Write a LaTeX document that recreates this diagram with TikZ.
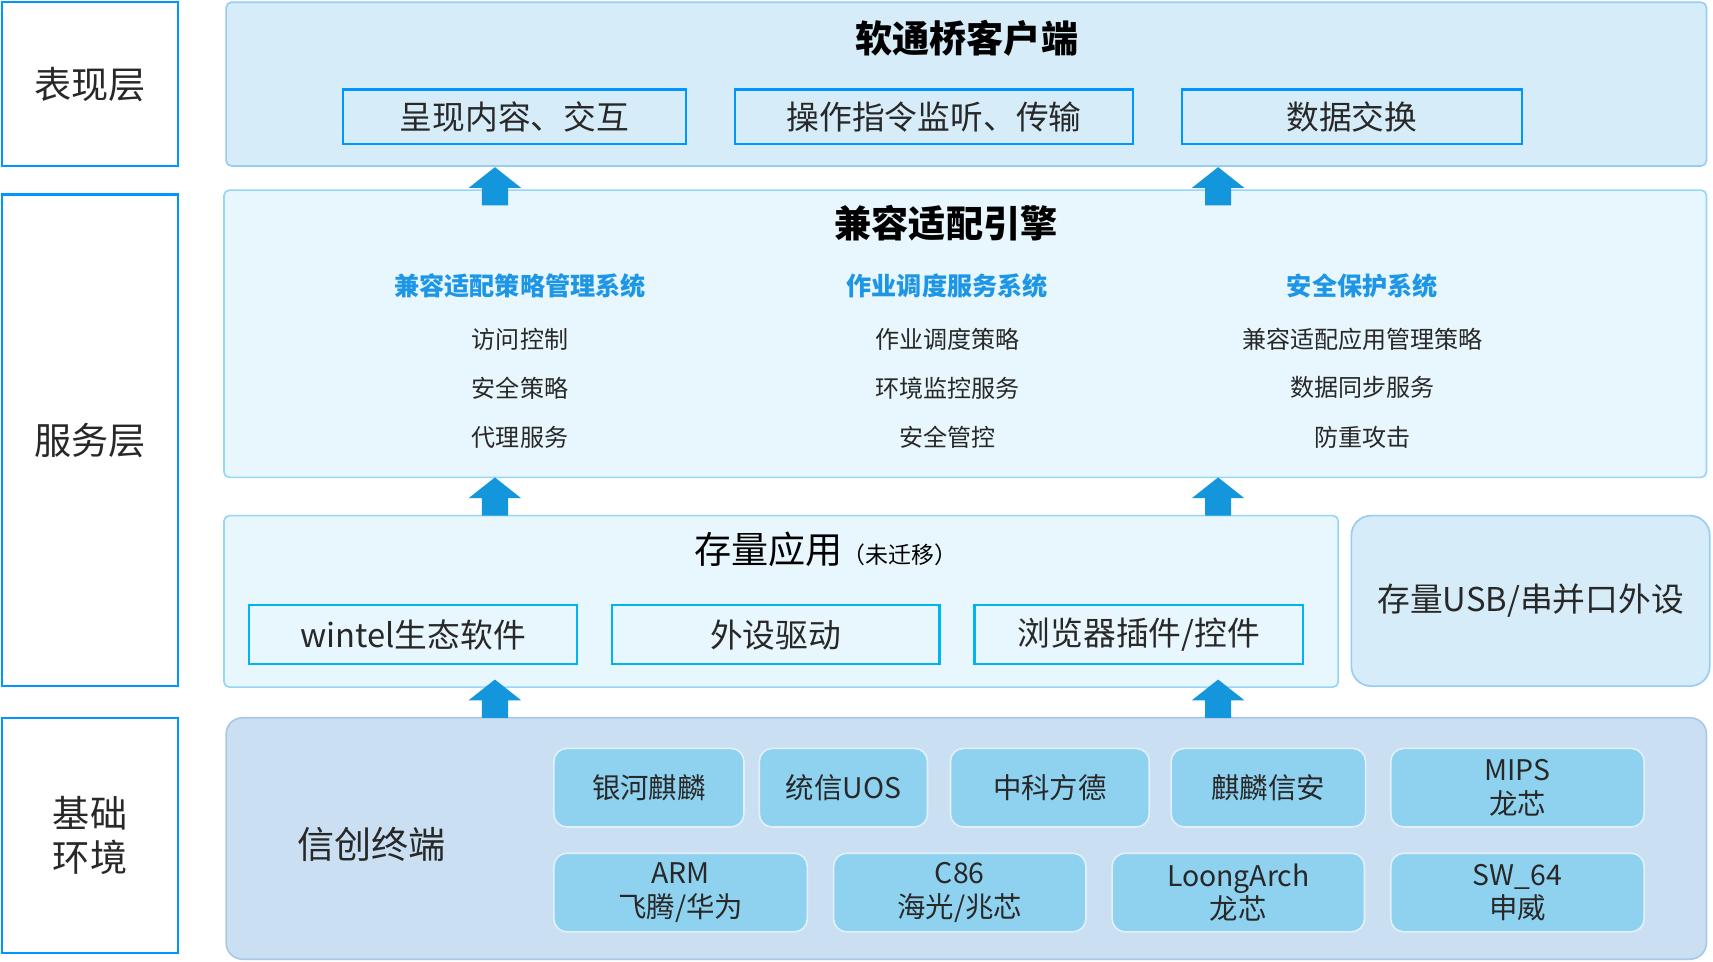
\documentclass[tikz,border=0pt]{standalone}
\usepackage{fontspec}
\setmainfont{Noto Sans CJK SC}
\definecolor{lblue}{RGB}{0,150,255}
\definecolor{txt}{RGB}{40,40,40}
\definecolor{presfill}{RGB}{214,236,248}
\definecolor{presdraw}{RGB}{150,205,240}
\definecolor{engfill}{RGB}{232,246,253}
\definecolor{engdraw}{RGB}{150,215,245}
\definecolor{stockdraw}{RGB}{0,180,240}
\definecolor{arrowblue}{RGB}{20,150,220}
\definecolor{headblue}{RGB}{30,150,230}
\definecolor{basefill}{RGB}{202,224,242}
\definecolor{basedraw}{RGB}{170,200,230}
\definecolor{chipfill}{RGB}{143,210,240}
\definecolor{chipdraw}{RGB}{225,240,250}
\begin{document}
\begin{tikzpicture}[x=1pt,y=-1pt,
	lblbox/.style={draw=lblue,line width=2pt,fill=white,minimum width=161pt,text=txt,align=center,font=\fontsize{34}{40}\selectfont},
	layer/.style={line width=1.5pt,inner sep=0pt},
	title/.style={text=black,font=\fontsize{34}{40}\selectfont\bfseries},
	subbox/.style={draw=lblue,line width=2pt,text=txt,font=\fontsize{30}{36}\selectfont},
	stockbox/.style={draw=stockdraw,line width=2pt,text=txt,minimum width=300pt,minimum height=54pt,font=\fontsize{30}{36}\selectfont},
	heading/.style={text=headblue,font=\fontsize{23}{28}\selectfont\bfseries},
	item/.style={text=txt,font=\fontsize{22}{26}\selectfont},
	chip/.style={draw=chipdraw,fill=chipfill,line width=1.5pt,rounded corners=12pt,minimum height=72pt,text=txt,align=center,font=\fontsize{26}{31}\selectfont}]
	\useasboundingbox (0,0) rectangle (1568,880);
	\fill[white] (0,0) rectangle (1568,880);
	% left labels
	\node[lblbox,minimum height=150pt] (lpres) at (82.5,77) {表现层};
	\node[lblbox,minimum height=450pt] (lserv) at (82.5,403) {服务层};
	\node[lblbox,minimum height=215pt] (lbase) at (82.5,764.5) {基础\\环境};
	% presentation layer
	\node[layer,draw=presdraw,fill=presfill,rounded corners=5pt,minimum width=1355pt,minimum height=150pt] (pres) at (884.5,77) {};
	\node[title] (prestitle) at (885,35) {软通桥客户端};
	\node[subbox,minimum width=314pt,minimum height=50pt] (p1) at (471,107) {呈现内容、交互};
	\node[subbox,minimum width=364pt,minimum height=50pt] (p2) at (855,107) {操作指令监听、传输};
	\node[subbox,minimum width=311pt,minimum height=50pt] (p3) at (1237.5,107) {数据交换};
	% service layer
	\node[layer,draw=engdraw,fill=engfill,rounded corners=5pt,minimum width=1357pt,minimum height=263pt] (eng) at (883.5,305.5) {};
	\node[title] (engtitle) at (866,204) {兼容适配引擎};
	\node[heading] (h1) at (476,262) {兼容适配策略管理系统};
	\node[heading] (h2) at (867,262) {作业调度服务系统};
	\node[heading] (h3) at (1247,262) {安全保护系统};
	\node[item] (h1a) at (476,311) {访问控制};
	\node[item] (h1b) at (476,355) {安全策略};
	\node[item] (h1c) at (476,400) {代理服务};
	\node[item] (h2a) at (867,311) {作业调度策略};
	\node[item] (h2b) at (867,355) {环境监控服务};
	\node[item] (h2c) at (867,400) {安全管控};
	\node[item] (h3a) at (1247,311) {兼容适配应用管理策略};
	\node[item] (h3b) at (1247,355) {数据同步服务};
	\node[item] (h3c) at (1247,400) {防重攻击};
	% stock applications
	\node[layer,draw=engdraw,fill=engfill,rounded corners=5pt,minimum width=1020pt,minimum height=157pt] (stock) at (715,550.5) {};
	\node[title,font=\fontsize{34}{40}\selectfont] (stocktitle) at (756,503) {存量应用{\fontsize{21}{26}\selectfont（未迁移）}};
	\node[stockbox] (s1) at (378,581) {wintel生态软件};
	\node[stockbox] (s2) at (710,581) {外设驱动};
	\node[stockbox,minimum width=301pt] (s3) at (1042.5,581) {浏览器插件/控件};
	\node[layer,draw=presdraw,fill=presfill,rounded corners=18pt,minimum width=328pt,minimum height=156pt,text=txt,font=\fontsize{30}{36}\selectfont] (usb) at (1401,550) {存量USB/串并口外设};
	% base environment
	\node[layer,draw=basedraw,fill=basefill,rounded corners=15pt,minimum width=1355pt,minimum height=221pt] (base) at (884.5,767.5) {};
	\node[text=txt,font=\fontsize{34}{40}\selectfont] (basetitle) at (340,773) {信创终端};
	\node[chip,minimum width=174pt] (c1) at (594,721) {银河麒麟};
	\node[chip,minimum width=154pt] (c2) at (772,721) {统信UOS};
	\node[chip,minimum width=182pt] (c3) at (961,721) {中科方德};
	\node[chip,minimum width=178pt] (c4) at (1161,721) {麒麟信安};
	\node[chip,minimum width=232pt] (c5) at (1389,721) {MIPS\\龙芯};
	\node[chip,minimum width=232pt] (d1) at (623,817) {ARM\\飞腾/华为};
	\node[chip,minimum width=231pt] (d2) at (878.5,817) {C86\\海光/兆芯};
	\node[chip,minimum width=231pt] (d3) at (1133.5,817) {LoongArch\\龙芯};
	\node[chip,minimum width=232pt] (d4) at (1389,817) {SW\_64\\申威};
	% block arrows
	\foreach \x in {453,1115}
		\foreach \y in {153,437,622}
			\fill[arrowblue] (\x-12,\y+35) -- (\x-12,\y+19) -- (\x-24,\y+19) -- (\x,\y) -- (\x+24,\y+19) -- (\x+12,\y+19) -- (\x+12,\y+35) -- cycle;
\end{tikzpicture}
\end{document}
